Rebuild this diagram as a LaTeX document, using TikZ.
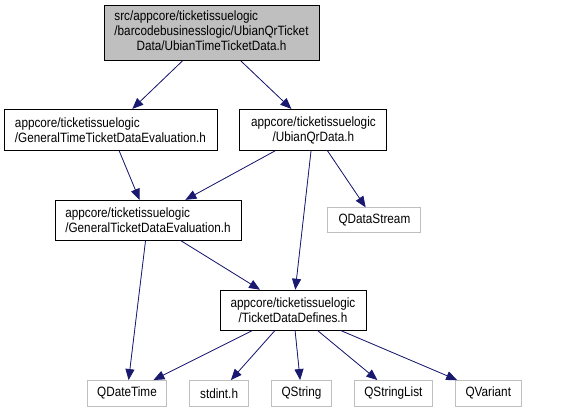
\documentclass[tikz,border=0pt]{standalone}
\usepackage{fontspec}
\setmainfont{Liberation Sans}[FakeStretch=0.87]
\usepackage{xcolor}
\usepackage{tikz}
\usetikzlibrary{arrows.meta, positioning}
\definecolor{edgeblue}{HTML}{191970}
\definecolor{boxgray}{HTML}{BFBFBF}
\tikzset{
    filebox/.style={rectangle, draw=black, line width=0.9pt, fill=white, inner sep=2pt, font=\fontsize{13.5}{15}\selectfont},
    current/.style={filebox, fill=boxgray},
    extfile/.style={rectangle, draw=boxgray, line width=0.9pt, fill=white, minimum height=25.6pt, inner sep=2pt, font=\fontsize{13.5}{15}\selectfont},
    arrow/.style={-{Triangle[length=11pt, width=9pt]}, draw=edgeblue, fill=edgeblue, line width=0.8pt},
}

\begin{document}
\begin{tikzpicture}[x=1pt, y=1pt]
    \useasboundingbox (0,0) rectangle (581,-409);

    \node[current, minimum width=215pt, minimum height=55pt] (ttd) at (211.5,-33)
        {\begin{tabular}{@{}l@{}}src/appcore/ticketissuelogic\\/barcodebusinesslogic/UbianQrTicket\\\multicolumn{1}{@{}c@{}}{Data/UbianTimeTicketData.h}\end{tabular}};

    \node[filebox, align=left, minimum width=213pt, minimum height=41pt, below=48pt of ttd, xshift=-101pt] (gttde)
        {appcore/ticketissuelogic\\/GeneralTimeTicketDataEvaluation.h};

    \node[filebox, align=center, minimum width=147pt, minimum height=41pt, right=22pt of gttde] (uqd)
        {appcore/ticketissuelogic\\/UbianQrData.h};

    \node[filebox, align=left, minimum width=186pt, minimum height=40pt, below=49pt of gttde, xshift=37.5pt] (gtde)
        {appcore/ticketissuelogic\\/GeneralTicketDataEvaluation.h};

    \node[extfile, minimum width=93pt, minimum height=25pt, right=86pt of gtde] (qds) {QDataStream};

    \node[filebox, align=center, minimum width=146pt, minimum height=40pt, below=49pt of gtde, xshift=145pt] (tdd)
        {appcore/ticketissuelogic\\/TicketDataDefines.h};

    \node[extfile, minimum width=79.4pt, below=49.4pt of tdd, xshift=-166pt] (qdt) {QDateTime};
    \node[extfile, minimum width=59pt, right=22pt of qdt] (stdint) {stdint.h};
    \node[extfile, minimum width=60pt, right=22pt of stdint] (qstr) {QString};
    \node[extfile, minimum width=78pt, right=22pt of qstr] (qsl) {QStringList};
    \node[extfile, minimum width=66pt, right=22pt of qsl] (qvar) {QVariant};

    \draw[arrow] (ttd) -- (gttde);
    \draw[arrow] (ttd) -- (uqd);
    \draw[arrow] (gttde) -- (gtde);
    \draw[arrow] (uqd) -- (gtde);
    \draw[arrow] (uqd) -- (tdd);
    \draw[arrow] (uqd) -- (qds);
    \draw[arrow] (gtde) -- (tdd);
    \draw[arrow] (gtde) -- (qdt);
    \draw[arrow] (tdd) -- (qdt);
    \draw[arrow] (tdd) -- (stdint);
    \draw[arrow] (tdd) -- (qstr);
    \draw[arrow] (tdd) -- (qsl);
    \draw[arrow] (tdd) -- (qvar);
\end{tikzpicture}
\end{document}
